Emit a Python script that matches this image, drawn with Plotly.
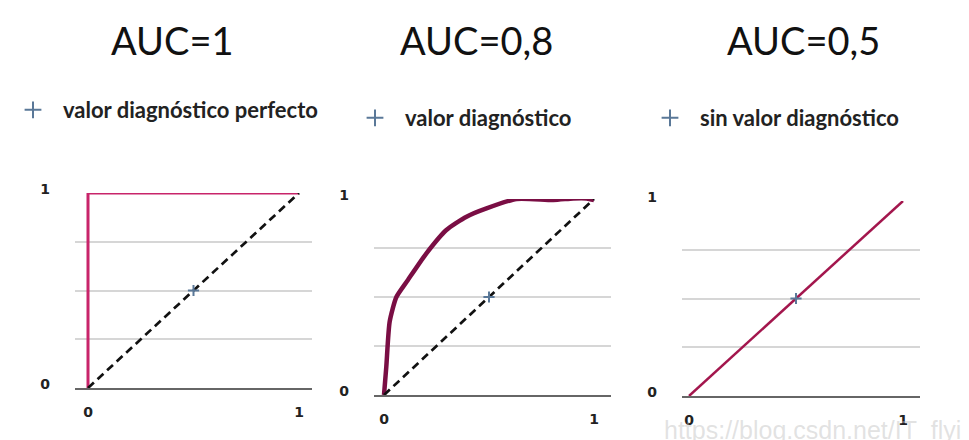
import plotly.graph_objects as go

W, H = 969, 440
OFF = 8  # page offset of the figure inside the browser window

titles = ["AUC=1", "AUC=0,8", "AUC=0,5"]
legend_names = ["valor diagnóstico perfecto", "valor diagnóstico", "sin valor diagnóstico"]

# ROC curves (false positive rate, true positive rate)
roc1_x = [0, 0, 1]
roc1_y = [0, 1, 1]
roc2_x = [0, 0.011, 0.027, 0.059, 0.114, 0.202, 0.297, 0.393, 0.488, 0.631, 0.806, 0.901, 0.965, 1.0]
roc2_y = [0, 0.145, 0.374, 0.50, 0.587, 0.723, 0.842, 0.910, 0.952, 1.0, 0.995, 1.003, 1.003, 0.995]
roc3_x = [0, 1]
roc3_y = [0, 1]
diag_x = [0, 1]
diag_y = [0, 1]
point_x = [0.5]
point_y = [0.5]

grid_vals = [0, 0.25, 0.5, 0.75, 1]
grid_text = ["0", "", "", "", "1"]
x_ticks = [0, 1]
x_text = ["0", "1"]

# pixel layout of each panel: (grid left, grid right, data x0, data x1, top y, bottom y)
panels = [
    (75, 312, 88, 299, 193, 388),
    (374, 611, 384, 594, 199, 395),
    (682, 920, 689, 903, 201, 396),
]
title_px = [(172, 40), (476, 40), (803, 40)]
legend_px = [(3, 110), (345, 118), (640, 118)]


def fx(px):
    return (px - OFF) / W


def fy(py):
    return 1 - (py - OFF) / H


roc_x = [roc1_x, roc2_x, roc3_x]
roc_y = [roc1_y, roc2_y, roc3_y]
roc_colors = ["#c8246a", "#7a0e44", "#a3164d"]
roc_widths = [3, 4.5, 2.5]
roc_shapes = ["linear", "spline", "linear"]

fig = go.Figure()
tick_font = dict(family="DejaVu Sans", size=14, color="#222222", weight="bold")

for i in range(3):
    gl, gr, d0, d1, ty, by = panels[i]
    ppu = (d1 - d0)
    xr = [-(d0 - gl) / ppu, 1 + (gr - d1) / ppu]
    sfx = "" if i == 0 else str(i + 1)
    xa = "x" + sfx
    ya = "y" + sfx
    leg = "legend" + sfx

    fig.add_trace(go.Scatter(x=roc_x[i], y=roc_y[i], mode="lines", xaxis=xa, yaxis=ya,
                             line=dict(color=roc_colors[i], width=roc_widths[i], shape=roc_shapes[i], smoothing=0.6),
                             showlegend=False, cliponaxis=False, hoverinfo="skip"))
    if i < 2:
        fig.add_trace(go.Scatter(x=diag_x, y=diag_y, mode="lines", xaxis=xa, yaxis=ya,
                                 line=dict(color="#111111", width=2.7, dash="8px,5px"),
                                 showlegend=False, cliponaxis=False, hoverinfo="skip"))
    fig.add_trace(go.Scatter(x=point_x, y=point_y, mode="markers", xaxis=xa, yaxis=ya,
                             name=legend_names[i], legend=leg,
                             marker=dict(symbol="cross-thin", size=8, color="#5a7898",
                                         line=dict(color="#5a7898", width=2)),
                             cliponaxis=False))

    fig.layout["xaxis" + sfx] = dict(
        domain=[fx(gl), fx(gr)], range=xr, anchor=ya, automargin=False,
        showgrid=False, zeroline=False, showline=True, linecolor="#666666", linewidth=1.5,
        tickvals=x_ticks, ticktext=x_text, ticks="", tickfont=tick_font,
        ticklabelstandoff=10, fixedrange=True)
    fig.layout["yaxis" + sfx] = dict(
        domain=[fy(by), fy(ty)], range=[0, 1], anchor=xa, automargin=False,
        showgrid=True, gridcolor="#d6d6d6", gridwidth=1.5, zeroline=False, showline=False,
        tickvals=grid_vals, ticktext=grid_text, ticks="", tickfont=tick_font,
        ticklabelstandoff=24, ticklabelshift=-4, fixedrange=True)

    lx, ly = legend_px[i]
    fig.layout[leg] = dict(x=fx(lx), y=fy(ly), xanchor="left", yanchor="middle",
                           xref="paper", yref="paper", bgcolor="rgba(0,0,0,0)",
                           itemwidth=50, itemsizing="constant",
                           font=dict(family="Lato", size=22, color="#222222", weight="bold"))

    tx, tyy = title_px[i]
    fig.add_annotation(x=fx(tx), y=fy(tyy), xref="paper", yref="paper",
                       text=titles[i], showarrow=False, xanchor="center", yanchor="middle",
                       font=dict(family="Lato", size=38, color="#111111"))

fig.add_annotation(x=fx(662), y=fy(446), xref="paper", yref="paper",
                   text="https://blog.csdn.net/IT_flying625", showarrow=False,
                   xanchor="left", yanchor="bottom",
                   font=dict(family="Liberation Sans", size=25, color="rgba(190,190,190,0.45)"))

fig.update_layout(width=W, height=H, margin=dict(l=0, r=0, t=0, b=0, autoexpand=False),
                  paper_bgcolor="white", plot_bgcolor="white")

fig.write_html("out.html", config={"displayModeBar": False})
